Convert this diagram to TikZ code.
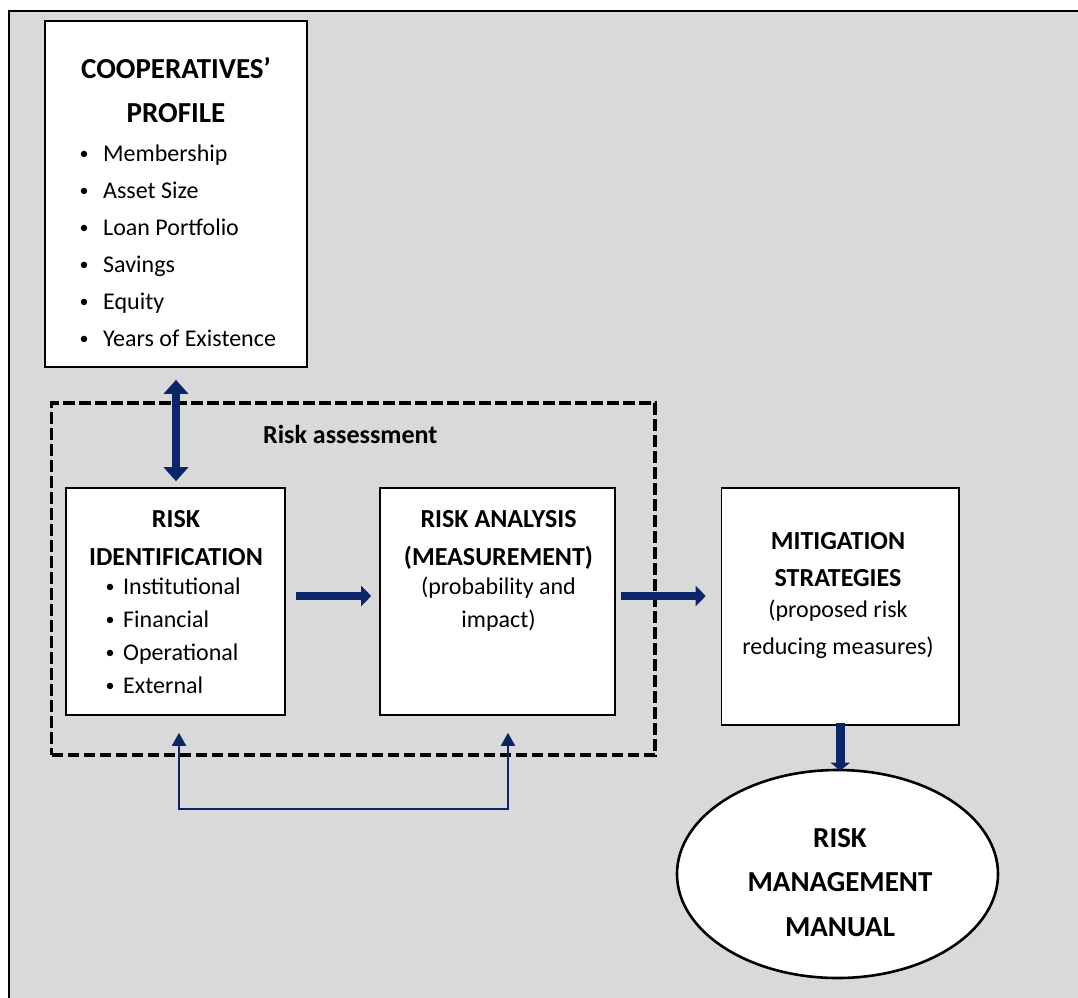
\documentclass[tikz,border=0pt]{standalone}
\usepackage{fontspec}
\setmainfont{Carlito}
\usetikzlibrary{arrows.meta,shapes.geometric}
\definecolor{navy}{RGB}{10,38,105}
\definecolor{bggray}{RGB}{217,217,217}
\newcommand\smallbullet{\raisebox{1.8pt}{\fontsize{18}{18}\selectfont•}}
\newcommand\bltA{\makebox[0pt][c]{\smallbullet}\hspace{19pt}}
\newcommand\bltB{\makebox[0pt][c]{\smallbullet}\hspace{13pt}}
\begin{document}
\begin{tikzpicture}[x=1pt,y=-1pt,
  box/.style={draw=black, line width=1.6pt, fill=white, inner sep=0pt, rectangle},
  dashbox/.style={draw=black, line width=3.5pt, dash pattern=on 11.5pt off 4.5pt, inner sep=0pt, rectangle},
  bigtitle/.style={font=\fontsize{29}{44}\selectfont\bfseries, align=center, anchor=base, inner sep=0pt},
  midtitle/.style={font=\fontsize{26}{38}\selectfont\bfseries, align=center, anchor=base, inner sep=0pt},
  bodytext/.style={font=\fontsize{24}{33}\selectfont, align=center, anchor=base, inner sep=0pt},
  listtext/.style={font=\fontsize{24}{33}\selectfont, align=left, anchor=base west, inner sep=0pt},
  bigarrow/.style={draw=navy, line width=8pt, -{Triangle[width=20pt,length=10pt]}},
  dblarrow/.style={draw=navy, line width=8pt, {Triangle[width=24pt,length=14pt]}-{Triangle[width=24pt,length=14pt]}},
  thinarrow/.style={draw=navy, line width=1.8pt, {Triangle[width=14pt,length=13pt]}-{Triangle[width=14pt,length=13pt]}}
]
\useasboundingbox (0,0) rectangle (1078,997);
\clip (0,0) rectangle (1078,997);
\fill[white] (0,0) rectangle (1078,997);
\draw[line width=2pt, fill=bggray] (9,10.5) rectangle (1095,1015);

% boxes
\node[box, minimum width=262pt, minimum height=346pt] (prof) at (176,194) {};
\node[dashbox, minimum width=603.5pt, minimum height=352pt] (assess) at (353.25,579) {};
\node[box, minimum width=219pt, minimum height=227pt] (id) at (175.5,601.5) {};
\node[box, minimum width=235pt, minimum height=227pt] (ana) at (497.5,601.5) {};
\node[box, minimum width=237.5pt, minimum height=237pt] (mit) at (840.25,606.5) {};
\node[draw=black, line width=2.6pt, fill=white, ellipse, inner sep=0pt, minimum width=321pt, minimum height=208pt] (man) at (837.5,874) {};

% texts (anchor base = baseline of the last line)
\node[bigtitle] (proft) at (176,122) {COOPERATIVES’\\PROFILE};
\node[listtext, font=\fontsize{24}{37}\selectfont] (profl) at (84,346) {\bltA Membership\\\bltA Asset Size\\\bltA Loan Portfolio\\\bltA Savings\\\bltA Equity\\\bltA Years of Existence};
\node[font=\fontsize{26}{30}\selectfont\bfseries, anchor=base west, inner sep=0pt] (asst) at (263,443) {Risk assessment};
\node[midtitle] (idt) at (176,565) {RISK\\IDENTIFICATION};
\node[listtext] (idl) at (110,693.5) {\bltB Institutional\\\bltB Financial\\\bltB Operational\\\bltB External};
\node[midtitle] (anat) at (498.5,565) {RISK ANALYSIS\\(MEASUREMENT)};
\node[bodytext] (anab) at (498.5,627.5) {(probability and\\impact)};
\node[midtitle, font=\fontsize{26}{37}\selectfont\bfseries] (mitt) at (838,586) {MITIGATION\\STRATEGIES};
\node[bodytext, font=\fontsize{24}{37}\selectfont] (mitb) at (838,654) {(proposed risk\\reducing measures)};
\node[bigtitle, font=\fontsize{29}{44.5}\selectfont\bfseries] (mant) at (840,936) {RISK\\MANAGEMENT\\MANUAL};

% connectors
\draw[dblarrow, shorten <=12pt, shorten >=6pt] (prof.south) -- (prof.south |- id.north);
\draw[bigarrow, shorten <=10pt, shorten >=8pt] ([yshift=5.5pt]id.east) -- ([yshift=5.5pt]ana.west);
\draw[bigarrow, shorten <=5pt, shorten >=15pt] ([yshift=5.5pt]ana.east) -- ([yshift=5.5pt]ana.east -| mit.west);
\draw[draw=navy, line width=9pt, -{Triangle[width=19pt,length=8pt]}, shorten <=-3pt, shorten >=-2pt] (mit.south) -- (mit.south |- man.north);
\coordinate (fb) at (343,809);
\draw[thinarrow] ([xshift=3.5pt,yshift=-17pt]id.south) |- (fb) -| ([xshift=10.5pt,yshift=-17pt]ana.south);
\end{tikzpicture}
\end{document}
